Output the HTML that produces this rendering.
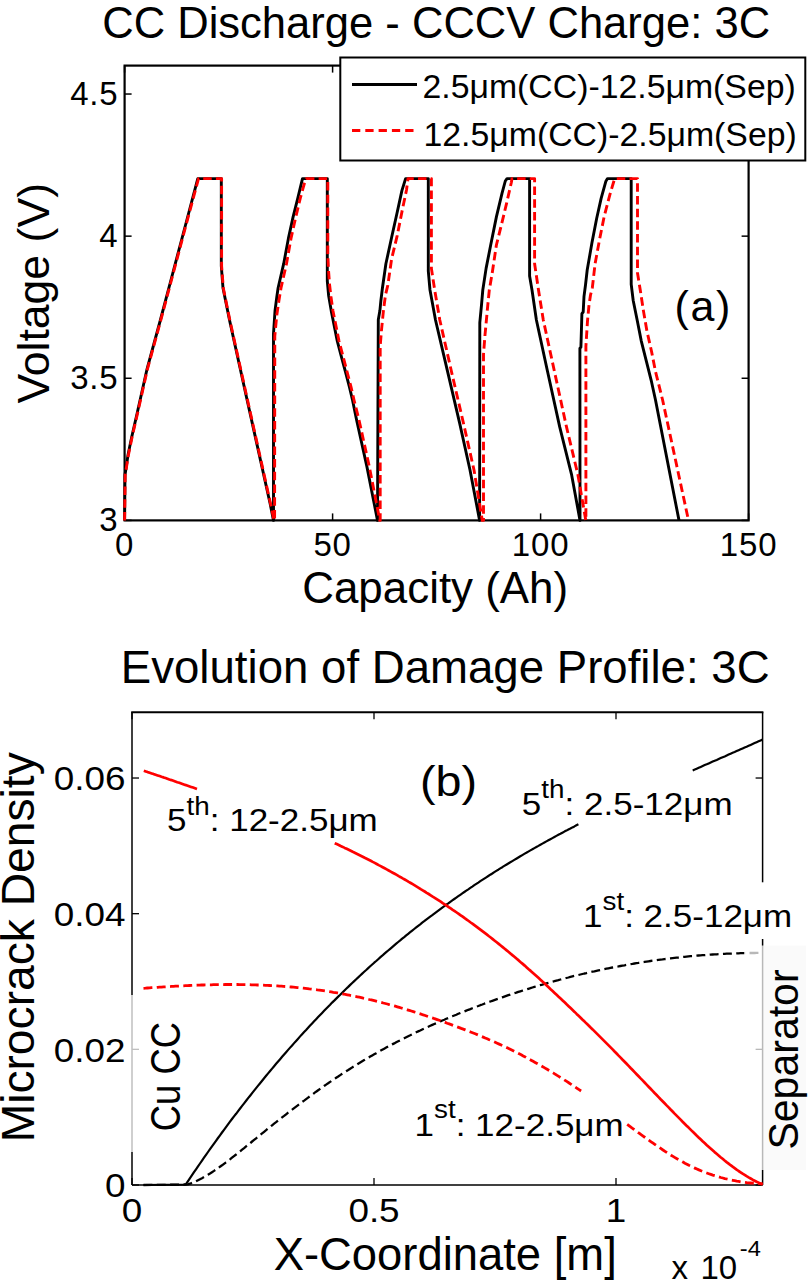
<!DOCTYPE html>
<html><head><meta charset="utf-8"><style>
html,body{margin:0;padding:0;background:#fff;width:812px;height:1280px;overflow:hidden}
svg{display:block}
</style></head><body>
<svg width="812" height="1280" viewBox="0 0 812 1280" font-family='"Liberation Sans", sans-serif' fill="#000">
<rect width="812" height="1280" fill="#fff"/>
<text transform="translate(102.20,38.10)" font-size="43.55">CC Discharge - CCCV Charge: 3C</text>
<line x1="124.60" y1="520.40" x2="124.60" y2="513.40" stroke="#000" stroke-width="1.5"/>
<line x1="124.60" y1="65.60" x2="124.60" y2="72.60" stroke="#000" stroke-width="1.5"/>
<text transform="translate(124.60,555.50)" font-size="33" text-anchor="middle" letter-spacing="0.8">0</text>
<line x1="332.60" y1="520.40" x2="332.60" y2="513.40" stroke="#000" stroke-width="1.5"/>
<line x1="332.60" y1="65.60" x2="332.60" y2="72.60" stroke="#000" stroke-width="1.5"/>
<text transform="translate(332.60,555.50)" font-size="33" text-anchor="middle" letter-spacing="0.8">50</text>
<line x1="540.60" y1="520.40" x2="540.60" y2="513.40" stroke="#000" stroke-width="1.5"/>
<line x1="540.60" y1="65.60" x2="540.60" y2="72.60" stroke="#000" stroke-width="1.5"/>
<text transform="translate(540.60,555.50)" font-size="33" text-anchor="middle" letter-spacing="0.8">100</text>
<line x1="748.60" y1="520.40" x2="748.60" y2="513.40" stroke="#000" stroke-width="1.5"/>
<line x1="748.60" y1="65.60" x2="748.60" y2="72.60" stroke="#000" stroke-width="1.5"/>
<text transform="translate(748.60,555.50)" font-size="33" text-anchor="middle" letter-spacing="0.8">150</text>
<line x1="124.60" y1="520.40" x2="131.60" y2="520.40" stroke="#000" stroke-width="1.5"/>
<line x1="748.60" y1="520.40" x2="741.60" y2="520.40" stroke="#000" stroke-width="1.5"/>
<text transform="translate(118.50,531.40)" font-size="33" text-anchor="end" letter-spacing="0.8">3</text>
<line x1="124.60" y1="378.27" x2="131.60" y2="378.27" stroke="#000" stroke-width="1.5"/>
<line x1="748.60" y1="378.27" x2="741.60" y2="378.27" stroke="#000" stroke-width="1.5"/>
<text transform="translate(118.50,389.27)" font-size="33" text-anchor="end" letter-spacing="0.8">3.5</text>
<line x1="124.60" y1="236.15" x2="131.60" y2="236.15" stroke="#000" stroke-width="1.5"/>
<line x1="748.60" y1="236.15" x2="741.60" y2="236.15" stroke="#000" stroke-width="1.5"/>
<text transform="translate(118.50,247.15)" font-size="33" text-anchor="end" letter-spacing="0.8">4</text>
<line x1="124.60" y1="94.03" x2="131.60" y2="94.03" stroke="#000" stroke-width="1.5"/>
<line x1="748.60" y1="94.03" x2="741.60" y2="94.03" stroke="#000" stroke-width="1.5"/>
<text transform="translate(118.50,105.03)" font-size="33" text-anchor="end" letter-spacing="0.8">4.5</text>
<rect x="124.6" y="65.6" width="624.0" height="454.79999999999995" fill="none" stroke="#000" stroke-width="2.2"/>
<polyline points="124.6,520.4 125.0,475.0 128.0,455.0 131.6,437.5 137.2,413.0 147.1,368.8 160.4,320.0 171.5,278.0 185.0,227.0 197.8,178.6 221.3,178.6 221.3,266.0 223.0,288.0 229.5,320.0 248.0,404.0 270.2,504.0 273.5,520.4 273.5,333.5 275.0,311.0 276.8,297.0 278.1,288.0 283.7,263.7 288.4,238.4 293.1,216.9 297.8,198.1 302.5,178.6 327.3,178.6 327.3,281.0 328.6,295.4 331.2,310.6 334.2,325.8 337.3,341.1 341.3,356.3 345.4,371.5 349.4,386.8 352.5,400.0 356.6,420.0 366.9,466.6 377.5,520.4 378.3,319.7 379.9,310.6 380.9,300.5 382.4,288.3 385.9,263.7 391.6,237.5 397.2,212.2 401.9,190.6 405.6,178.6 428.3,178.6 428.3,271.2 430.0,290.0 435.5,320.0 447.6,371.7 459.7,423.4 470.0,470.0 479.6,520.4 479.8,322.6 481.5,305.0 482.8,290.0 486.1,268.4 490.7,245.0 496.4,216.9 502.0,193.4 505.3,181.0 507.0,178.6 529.6,178.6 529.6,275.9 532.0,290.0 536.4,320.0 547.6,371.7 559.7,426.9 571.7,475.2 580.0,520.4 579.9,348.2 580.9,347.2 581.9,313.7 583.2,312.0 584.0,296.4 585.5,285.0 587.2,270.0 591.9,243.1 596.6,218.7 601.2,198.1 605.9,181.2 607.5,178.6 631.2,178.6 631.2,284.3 633.2,300.5 637.3,320.8 641.3,341.1 646.4,361.4 651.5,381.7 655.5,400.0 679.0,520.4" fill="none" stroke="#000" stroke-width="2.9" stroke-linejoin="round" stroke-linecap="butt"/>
<polyline points="124.6,520.4 125.2,475.0 128.4,455.0 132.0,437.5 137.6,413.0 147.5,368.8 160.8,320.0 172.0,278.0 185.5,227.0 198.5,178.6 221.6,178.6 221.6,266.0 223.3,288.0 229.8,320.0 248.4,404.0 270.6,504.0 274.0,520.4 274.6,520.4 274.8,336.0 276.8,315.0 279.0,300.0 281.0,288.0 286.5,263.7 291.0,238.4 295.8,216.9 300.3,198.1 304.5,183.0 306.2,178.6 327.8,178.6 327.8,254.0 328.5,270.0 329.6,285.0 331.0,297.0 333.0,311.0 336.0,326.0 339.0,341.0 343.0,356.3 347.0,371.5 351.0,386.8 354.0,400.0 359.0,420.0 369.3,466.6 379.8,520.4 380.2,520.4 380.2,346.0 381.5,330.0 383.5,310.0 385.5,295.0 387.8,285.3 391.6,259.0 397.2,235.6 402.8,207.5 406.5,190.0 408.0,178.6 431.4,178.6 431.4,268.4 434.7,290.0 439.8,320.0 451.5,371.7 463.5,423.4 474.0,470.0 482.3,520.4 483.5,520.4 483.5,354.5 485.0,335.0 486.4,320.0 487.8,305.0 489.3,290.0 492.2,273.1 496.4,245.0 501.1,226.2 506.7,202.8 511.4,182.2 512.0,178.6 534.6,178.6 534.6,263.7 538.5,290.0 543.3,320.0 554.5,371.7 566.5,426.9 578.0,475.2 585.8,520.4 585.9,520.4 585.9,346.4 587.5,321.0 589.0,305.0 590.5,295.0 592.3,288.0 595.1,263.7 599.4,240.3 604.1,216.9 609.7,195.3 614.4,179.4 615.0,178.6 637.5,178.6 637.5,273.1 640.3,290.3 643.4,310.6 646.9,330.9 651.5,351.2 655.5,371.5 662.6,400.0 688.5,520.4" fill="none" stroke="#f00" stroke-width="2.9" stroke-linejoin="round" stroke-linecap="butt" stroke-dasharray="8.5 4.2"/>
<text transform="translate(435.20,602.50)" font-size="43.9" text-anchor="middle">Capacity (Ah)</text>
<text transform="translate(48.50,293.30) rotate(-90)" font-size="44.6" text-anchor="middle">Voltage (V)</text>
<text transform="translate(674.50,321.00)" font-size="43" letter-spacing="1.6">(a)</text>
<rect x="340.3" y="57.5" width="465" height="103" fill="#fff" stroke="#000" stroke-width="2"/>
<line x1="352.00" y1="84.60" x2="417.00" y2="84.60" stroke="#000" stroke-width="3"/>
<line x1="352" y1="130.4" x2="417" y2="130.4" stroke="#f00" stroke-width="3" stroke-dasharray="8.3 5"/>
<text transform="translate(422.50,97.50)" font-size="33.8">2.5μm(CC)-12.5μm(Sep)</text>
<text transform="translate(423.50,146.00)" font-size="33.8">12.5μm(CC)-2.5μm(Sep)</text>
<text transform="translate(120.80,683.00)" font-size="45.6">Evolution of Damage Profile: 3C</text>
<line x1="132.00" y1="1185.00" x2="132.00" y2="1178.00" stroke="#000" stroke-width="1.3"/>
<line x1="132.00" y1="712.20" x2="132.00" y2="719.20" stroke="#000" stroke-width="1.3"/>
<text transform="translate(132.00,1221.50) scale(1.1000,1.0000)" font-size="33.5" text-anchor="middle">0</text>
<line x1="374.00" y1="1185.00" x2="374.00" y2="1178.00" stroke="#000" stroke-width="1.3"/>
<line x1="374.00" y1="712.20" x2="374.00" y2="719.20" stroke="#000" stroke-width="1.3"/>
<text transform="translate(374.00,1221.50) scale(1.1000,1.0000)" font-size="33.5" text-anchor="middle">0.5</text>
<line x1="616.00" y1="1185.00" x2="616.00" y2="1178.00" stroke="#000" stroke-width="1.3"/>
<line x1="616.00" y1="712.20" x2="616.00" y2="719.20" stroke="#000" stroke-width="1.3"/>
<text transform="translate(616.00,1221.50) scale(1.1000,1.0000)" font-size="33.5" text-anchor="middle">1</text>
<line x1="132.00" y1="1185.00" x2="139.00" y2="1185.00" stroke="#000" stroke-width="1.3"/>
<line x1="762.60" y1="1185.00" x2="755.60" y2="1185.00" stroke="#000" stroke-width="1.3"/>
<text transform="translate(125.40,1197.40) scale(1.1000,1.0000)" font-size="33.5" text-anchor="end">0</text>
<line x1="132.00" y1="1049.34" x2="139.00" y2="1049.34" stroke="#000" stroke-width="1.3"/>
<line x1="762.60" y1="1049.34" x2="755.60" y2="1049.34" stroke="#000" stroke-width="1.3"/>
<text transform="translate(125.40,1061.74) scale(1.1000,1.0000)" font-size="33.5" text-anchor="end">0.02</text>
<line x1="132.00" y1="913.68" x2="139.00" y2="913.68" stroke="#000" stroke-width="1.3"/>
<line x1="762.60" y1="913.68" x2="755.60" y2="913.68" stroke="#000" stroke-width="1.3"/>
<text transform="translate(125.40,926.08) scale(1.1000,1.0000)" font-size="33.5" text-anchor="end">0.04</text>
<line x1="132.00" y1="778.02" x2="139.00" y2="778.02" stroke="#000" stroke-width="1.3"/>
<line x1="762.60" y1="778.02" x2="755.60" y2="778.02" stroke="#000" stroke-width="1.3"/>
<text transform="translate(125.40,790.42) scale(1.1000,1.0000)" font-size="33.5" text-anchor="end">0.06</text>
<line x1="131.20" y1="712.20" x2="763.40" y2="712.20" stroke="#000" stroke-width="2"/>
<line x1="132.00" y1="1185.00" x2="762.60" y2="1185.00" stroke="#000" stroke-width="1.5"/>
<line x1="132.00" y1="712.20" x2="132.00" y2="1185.00" stroke="#000" stroke-width="1.5"/>
<line x1="762.60" y1="712.20" x2="762.60" y2="1185.00" stroke="#000" stroke-width="1.5"/>
<polyline points="143.5,1185.0 184.0,1184.6 186.0,1184.1 188.0,1181.1 190.0,1178.1 192.0,1175.2 194.0,1172.2 196.0,1169.3 198.0,1166.4 200.0,1163.5 202.0,1160.6 204.0,1157.7 206.0,1154.9 208.0,1152.0 210.0,1149.2 212.0,1146.4 214.0,1143.6 216.0,1140.8 218.0,1138.0 220.0,1135.3 222.0,1132.5 224.0,1129.8 226.0,1127.1 228.0,1124.4 230.0,1121.7 232.0,1119.0 234.0,1116.4 236.1,1113.8 238.1,1111.1 240.1,1108.5 242.1,1105.9 244.1,1103.3 246.1,1100.8 248.1,1098.2 250.1,1095.7 252.1,1093.1 254.1,1090.6 256.1,1088.1 258.1,1085.6 260.1,1083.2 262.1,1080.7 264.1,1078.3 266.1,1075.8 268.1,1073.4 270.1,1071.0 272.1,1068.6 274.1,1066.2 276.1,1063.8 278.1,1061.5 280.1,1059.2 282.1,1056.8 284.1,1054.5 286.1,1052.2 288.1,1049.9 290.1,1047.6 292.1,1045.4 294.1,1043.1 296.1,1040.9 298.1,1038.7 300.1,1036.4 302.1,1034.2 304.1,1032.0 306.1,1029.9 308.1,1027.7 310.1,1025.5 312.1,1023.4 314.1,1021.3 316.1,1019.2 318.1,1017.1 320.1,1015.0 322.1,1012.9 324.1,1010.8 326.1,1008.7 328.1,1006.7 330.1,1004.7 332.1,1002.6 334.2,1000.6 336.2,998.6 338.2,996.6 340.2,994.7 342.2,992.7 344.2,990.7 346.2,988.8 348.2,986.9 350.2,984.9 352.2,983.0 354.2,981.1 356.2,979.2 358.2,977.4 360.2,975.5 362.2,973.6 364.2,971.8 366.2,970.0 368.2,968.1 370.2,966.3 372.2,964.5 374.2,962.7 376.2,961.0 378.2,959.2 380.2,957.4 382.2,955.7 384.2,953.9 386.2,952.2 388.2,950.5 390.2,948.8 392.2,947.1 394.2,945.4 396.2,943.7 398.2,942.0 400.2,940.4 402.2,938.7 404.2,937.1 406.2,935.4 408.2,933.8 410.2,932.2 412.2,930.6 414.2,929.0 416.2,927.4 418.2,925.8 420.2,924.3 422.2,922.7 424.2,921.2 426.2,919.6 428.2,918.1 430.2,916.6 432.3,915.1 434.3,913.6 436.3,912.1 438.3,910.6 440.3,909.1 442.3,907.6 444.3,906.2 446.3,904.7 448.3,903.3 450.3,901.8 452.3,900.4 454.3,899.0 456.3,897.6 458.3,896.2 460.3,894.8 462.3,893.4 464.3,892.0 466.3,890.6 468.3,889.3 470.3,887.9 472.3,886.6 474.3,885.2 476.3,883.9 478.3,882.6 480.3,881.2 482.3,879.9 484.3,878.6 486.3,877.3 488.3,876.0 490.3,874.7 492.3,873.5 494.3,872.2 496.3,870.9 498.3,869.7 500.3,868.4 502.3,867.2 504.3,865.9 506.3,864.7 508.3,863.5 510.3,862.3 512.3,861.1 514.3,859.9 516.3,858.7 518.3,857.5 520.3,856.3 522.3,855.1 524.3,853.9 526.3,852.8 528.3,851.6 530.4,850.4 532.4,849.3 534.4,848.1 536.4,847.0 538.4,845.9 540.4,844.7 542.4,843.6 544.4,842.5 546.4,841.4 548.4,840.3 550.4,839.2 552.4,838.1 554.4,837.0 556.4,835.9 558.4,834.8 560.4,833.8 562.4,832.7 564.4,831.6 566.4,830.6 568.4,829.5 570.4,828.5 572.4,827.4 574.4,826.4 576.4,825.3 578.4,824.3" fill="none" stroke="#000" stroke-width="2.2" stroke-linejoin="round" stroke-linecap="butt"/>
<polyline points="692.7,770.4 694.7,769.6 696.7,768.7 698.7,767.8 700.7,766.9 702.7,766.0 704.7,765.1 706.7,764.3 708.7,763.4 710.7,762.5 712.7,761.6 714.7,760.7 716.7,759.9 718.7,759.0 720.7,758.1 722.7,757.2 724.7,756.4 726.7,755.5 728.6,754.6 730.6,753.7 732.6,752.8 734.6,752.0 736.6,751.1 738.6,750.2 740.6,749.3 742.6,748.4 744.6,747.5 746.6,746.7 748.6,745.8 750.6,744.9 752.6,744.0 754.6,743.1 756.6,742.2 758.6,741.3 760.6,740.4 762.6,739.5" fill="none" stroke="#000" stroke-width="2.2" stroke-linejoin="round" stroke-linecap="butt"/>
<polyline points="143.5,1185.0 186.0,1184.6 188.0,1184.4 190.0,1183.7 192.0,1182.9 194.0,1182.1 196.0,1181.2 198.0,1180.2 200.0,1179.2 202.0,1178.2 204.0,1177.1 206.0,1175.9 208.0,1174.7 210.0,1173.5 212.0,1172.2 214.0,1170.9 216.0,1169.5 218.0,1168.2 220.0,1166.7 222.0,1165.3 224.0,1163.8 226.0,1162.3 228.0,1160.8 230.0,1159.3 232.0,1157.7 234.0,1156.1 236.1,1154.5 238.1,1152.9 240.1,1151.3 242.1,1149.7 244.1,1148.1 246.1,1146.4 248.1,1144.8 250.1,1143.2 252.1,1141.5 254.1,1139.9 256.1,1138.3 258.1,1136.6 260.1,1135.0 262.1,1133.4 264.1,1131.8 266.1,1130.2 268.1,1128.5 270.1,1126.9 272.1,1125.3 274.1,1123.7 276.1,1122.2 278.1,1120.6 280.1,1119.0 282.1,1117.4 284.1,1115.9 286.1,1114.3 288.1,1112.7 290.1,1111.2 292.1,1109.7 294.1,1108.1 296.1,1106.6 298.1,1105.1 300.1,1103.6 302.1,1102.0 304.1,1100.6 306.1,1099.1 308.1,1097.6 310.1,1096.1 312.1,1094.6 314.1,1093.2 316.1,1091.7 318.1,1090.3 320.1,1088.9 322.1,1087.5 324.1,1086.0 326.1,1084.6 328.1,1083.3 330.1,1081.9 332.2,1080.5 334.2,1079.2 336.2,1077.8 338.2,1076.5 340.2,1075.1 342.2,1073.8 344.2,1072.5 346.2,1071.2 348.2,1070.0 350.2,1068.7 352.2,1067.4 354.2,1066.2 356.2,1065.0 358.2,1063.7 360.2,1062.5 362.2,1061.3 364.2,1060.1 366.2,1058.9 368.2,1057.8 370.2,1056.6 372.2,1055.4 374.2,1054.3 376.2,1053.2 378.2,1052.0 380.2,1050.9 382.2,1049.8 384.2,1048.7 386.2,1047.6 388.2,1046.5 390.2,1045.5 392.2,1044.4 394.2,1043.4 396.2,1042.3 398.2,1041.3 400.2,1040.3 402.2,1039.2 404.2,1038.2 406.2,1037.2 408.2,1036.2 410.2,1035.3 412.2,1034.3 414.2,1033.3 416.2,1032.3 418.2,1031.4 420.2,1030.5 422.2,1029.5 424.2,1028.6 426.2,1027.7 428.3,1026.7 430.3,1025.8 432.3,1024.9 434.3,1024.0 436.3,1023.2 438.3,1022.3 440.3,1021.4 442.3,1020.5 444.3,1019.7 446.3,1018.8 448.3,1018.0 450.3,1017.1 452.3,1016.3 454.3,1015.5 456.3,1014.7 458.3,1013.8 460.3,1013.0 462.3,1012.2 464.3,1011.4 466.3,1010.6 468.3,1009.8 470.3,1009.1 472.3,1008.3 474.3,1007.5 476.3,1006.7 478.3,1006.0 480.3,1005.2 482.3,1004.5 484.3,1003.7 486.3,1003.0 488.3,1002.3 490.3,1001.5 492.3,1000.8 494.3,1000.1 496.3,999.4 498.3,998.7 500.3,998.0 502.3,997.3 504.3,996.6 506.3,995.9 508.3,995.2 510.3,994.6 512.3,993.9 514.3,993.2 516.3,992.6 518.3,991.9 520.3,991.3 522.3,990.7 524.4,990.0 526.4,989.4 528.4,988.8 530.4,988.2 532.4,987.5 534.4,986.9 536.4,986.3 538.4,985.7 540.4,985.1 542.4,984.6 544.4,984.0 546.4,983.4 548.4,982.8 550.4,982.3 552.4,981.7 554.4,981.2 556.4,980.6 558.4,980.1 560.4,979.5 562.4,979.0 564.4,978.5 566.4,978.0 568.4,977.5 570.4,976.9 572.4,976.4 574.4,975.9 576.4,975.5 578.4,975.0 580.4,974.5 582.4,974.0 584.4,973.5 586.4,973.1 588.4,972.6 590.4,972.2 592.4,971.7 594.4,971.3 596.4,970.8 598.4,970.4 600.4,970.0 602.4,969.5 604.4,969.1 606.4,968.7 608.4,968.3 610.4,967.9 612.4,967.5 614.4,967.1 616.4,966.7 618.4,966.4 620.5,966.0 622.5,965.6 624.5,965.3 626.5,964.9 628.5,964.5 630.5,964.2 632.5,963.9 634.5,963.5 636.5,963.2 638.5,962.9 640.5,962.5 642.5,962.2 644.5,961.9 646.5,961.6 648.5,961.3 650.5,961.0 652.5,960.7 654.5,960.4 656.5,960.2 658.5,959.9 660.5,959.6 662.5,959.4 664.5,959.1 666.5,958.9 668.5,958.6 670.5,958.4 672.5,958.1 674.5,957.9 676.5,957.7 678.5,957.5 680.5,957.2 682.5,957.0 684.5,956.8 686.5,956.6 688.5,956.4 690.5,956.2 692.5,956.1 694.5,955.9 696.5,955.7 698.5,955.5 700.5,955.4 702.5,955.2 704.5,955.1 706.5,954.9 708.5,954.8 710.5,954.6 712.5,954.5 714.5,954.4 716.6,954.3 718.6,954.2 720.6,954.0 722.6,953.9 724.6,953.8 726.6,953.7 728.6,953.7 730.6,953.6 732.6,953.5 734.6,953.4 736.6,953.3 738.6,953.3 740.6,953.2 742.6,953.2 744.6,953.1 746.6,953.1 748.6,953.0 750.6,953.0 752.6,953.0 754.6,953.0 756.6,952.9 758.6,952.9 760.6,952.9 762.6,952.9" fill="none" stroke="#000" stroke-width="2.3" stroke-linejoin="round" stroke-linecap="butt" stroke-dasharray="8.9 4.4"/>
<polyline points="143.8,770.7 145.8,771.4 147.7,772.1 149.7,772.7 151.7,773.4 153.7,774.1 155.6,774.7 157.6,775.4 159.6,776.1 161.5,776.8 163.5,777.4 165.5,778.1 167.4,778.8 169.4,779.5 171.4,780.1 173.4,780.8 175.3,781.5 177.3,782.2 179.3,782.8 181.2,783.5 183.2,784.2 185.2,784.9 187.1,785.5 189.1,786.2 191.1,786.9 193.1,787.6 195.0,788.3 197.0,789.0" fill="none" stroke="#f00" stroke-width="2.7" stroke-linejoin="round" stroke-linecap="butt"/>
<polyline points="334.7,843.2 336.7,844.1 338.7,845.0 340.7,846.0 342.7,846.9 344.7,847.9 346.7,848.8 348.7,849.8 350.7,850.8 352.7,851.8 354.7,852.7 356.7,853.7 358.7,854.7 360.7,855.7 362.7,856.7 364.7,857.8 366.7,858.8 368.7,859.8 370.7,860.8 372.7,861.9 374.7,862.9 376.7,864.0 378.7,865.1 380.7,866.1 382.7,867.2 384.7,868.3 386.7,869.4 388.7,870.5 390.7,871.6 392.7,872.7 394.7,873.8 396.7,874.9 398.7,876.1 400.7,877.2 402.7,878.4 404.7,879.5 406.7,880.7 408.7,881.9 410.7,883.0 412.7,884.2 414.7,885.4 416.7,886.6 418.7,887.8 420.7,889.1 422.7,890.3 424.7,891.5 426.7,892.8 428.7,894.0 430.7,895.3 432.7,896.6 434.7,897.8 436.7,899.1 438.7,900.4 440.7,901.7 442.7,903.1 444.7,904.4 446.7,905.7 448.7,907.1 450.7,908.4 452.7,909.8 454.7,911.1 456.7,912.5 458.7,913.9 460.7,915.3 462.7,916.7 464.7,918.2 466.7,919.6 468.7,921.0 470.7,922.5 472.7,923.9 474.7,925.4 476.7,926.9 478.7,928.4 480.7,929.9 482.7,931.4 484.7,932.9 486.7,934.4 488.7,936.0 490.7,937.5 492.7,939.1 494.7,940.7 496.7,942.3 498.7,943.9 500.7,945.5 502.7,947.1 504.7,948.7 506.7,950.4 508.7,952.0 510.7,953.7 512.7,955.4 514.7,957.0 516.7,958.7 518.7,960.4 520.7,962.2 522.7,963.9 524.7,965.6 526.7,967.4 528.7,969.2 530.7,970.9 532.7,972.7 534.7,974.5 536.7,976.3 538.7,978.1 540.7,979.9 542.7,981.8 544.7,983.6 546.7,985.5 548.6,987.3 550.6,989.2 552.6,991.0 554.6,992.9 556.6,994.8 558.6,996.7 560.6,998.5 562.6,1000.4 564.6,1002.3 566.6,1004.3 568.6,1006.2 570.6,1008.1 572.6,1010.0 574.6,1011.9 576.6,1013.9 578.6,1015.8 580.6,1017.7 582.6,1019.7 584.6,1021.6 586.6,1023.6 588.6,1025.5 590.6,1027.5 592.6,1029.4 594.6,1031.4 596.6,1033.4 598.6,1035.4 600.6,1037.4 602.6,1039.4 604.6,1041.4 606.6,1043.4 608.6,1045.4 610.6,1047.4 612.6,1049.4 614.6,1051.5 616.6,1053.5 618.6,1055.6 620.6,1057.6 622.6,1059.7 624.6,1061.7 626.6,1063.8 628.6,1065.9 630.6,1068.0 632.6,1070.0 634.6,1072.1 636.6,1074.2 638.6,1076.3 640.6,1078.4 642.6,1080.4 644.6,1082.5 646.6,1084.6 648.6,1086.7 650.6,1088.8 652.6,1090.9 654.6,1093.0 656.6,1095.0 658.6,1097.1 660.6,1099.2 662.6,1101.2 664.6,1103.3 666.6,1105.4 668.6,1107.4 670.6,1109.5 672.6,1111.5 674.6,1113.6 676.6,1115.6 678.6,1117.6 680.6,1119.6 682.6,1121.7 684.6,1123.7 686.6,1125.7 688.6,1127.6 690.6,1129.6 692.6,1131.6 694.6,1133.5 696.6,1135.5 698.6,1137.4 700.6,1139.3 702.6,1141.2 704.6,1143.0 706.6,1144.9 708.6,1146.7 710.6,1148.5 712.6,1150.3 714.6,1152.1 716.6,1153.8 718.6,1155.5 720.6,1157.2 722.6,1158.8 724.6,1160.5 726.6,1162.1 728.6,1163.6 730.6,1165.2 732.6,1166.7 734.6,1168.1 736.6,1169.6 738.6,1171.0 740.6,1172.3 742.6,1173.7 744.6,1174.9 746.6,1176.2 748.6,1177.4 750.6,1178.5 752.6,1179.7 754.6,1180.7 756.6,1181.8 758.6,1182.7 760.6,1183.7 762.6,1184.6" fill="none" stroke="#f00" stroke-width="2.7" stroke-linejoin="round" stroke-linecap="butt"/>
<polyline points="143.5,988.3 145.5,988.2 147.5,988.0 149.5,987.9 151.5,987.7 153.5,987.6 155.5,987.5 157.5,987.3 159.5,987.2 161.5,987.1 163.5,986.9 165.5,986.8 167.5,986.7 169.5,986.6 171.5,986.4 173.5,986.3 175.5,986.2 177.5,986.1 179.5,986.0 181.5,985.9 183.5,985.8 185.5,985.7 187.5,985.6 189.5,985.5 191.5,985.4 193.5,985.3 195.5,985.3 197.5,985.2 199.4,985.1 201.4,985.0 203.4,985.0 205.4,984.9 207.4,984.9 209.4,984.8 211.4,984.8 213.4,984.7 215.4,984.7 217.4,984.6 219.4,984.6 221.4,984.6 223.4,984.6 225.4,984.5 227.4,984.5 229.4,984.5 231.4,984.5 233.4,984.5 235.4,984.5 237.4,984.5 239.4,984.6 241.4,984.6 243.4,984.6 245.4,984.6 247.4,984.7 249.4,984.7 251.4,984.8 253.4,984.8 255.4,984.9 257.4,985.0 259.4,985.0 261.4,985.1 263.4,985.2 265.4,985.3 267.4,985.4 269.4,985.5 271.4,985.6 273.4,985.7 275.4,985.8 277.4,985.9 279.4,986.1 281.4,986.2 283.4,986.4 285.4,986.5 287.4,986.7 289.4,986.8 291.4,987.0 293.4,987.2 295.4,987.4 297.4,987.6 299.4,987.8 301.4,988.0 303.4,988.2 305.4,988.4 307.4,988.6 309.3,988.9 311.3,989.1 313.3,989.4 315.3,989.6 317.3,989.9 319.3,990.1 321.3,990.4 323.3,990.7 325.3,991.0 327.3,991.3 329.3,991.6 331.3,991.9 333.3,992.3 335.3,992.6 337.3,992.9 339.3,993.3 341.3,993.7 343.3,994.0 345.3,994.4 347.3,994.8 349.3,995.2 351.3,995.6 353.3,996.0 355.3,996.4 357.3,996.8 359.3,997.2 361.3,997.6 363.3,998.1 365.3,998.5 367.3,999.0 369.3,999.5 371.3,999.9 373.3,1000.4 375.3,1000.9 377.3,1001.4 379.3,1001.9 381.3,1002.4 383.3,1003.0 385.3,1003.5 387.3,1004.0 389.3,1004.6 391.3,1005.1 393.3,1005.7 395.3,1006.2 397.3,1006.8 399.3,1007.4 401.3,1008.0 403.3,1008.6 405.3,1009.2 407.3,1009.8 409.3,1010.4 411.3,1011.0 413.3,1011.6 415.3,1012.3 417.2,1012.9 419.2,1013.6 421.2,1014.2 423.2,1014.9 425.2,1015.5 427.2,1016.2 429.2,1016.9 431.2,1017.6 433.2,1018.2 435.2,1018.9 437.2,1019.6 439.2,1020.3 441.2,1021.0 443.2,1021.7 445.2,1022.4 447.2,1023.2 449.2,1023.9 451.2,1024.6 453.2,1025.4 455.2,1026.1 457.2,1026.9 459.2,1027.6 461.2,1028.4 463.2,1029.1 465.2,1029.9 467.2,1030.7 469.2,1031.5 471.2,1032.2 473.2,1033.0 475.2,1033.8 477.2,1034.6 479.2,1035.5 481.2,1036.3 483.2,1037.1 485.2,1038.0 487.2,1038.8 489.2,1039.7 491.2,1040.5 493.2,1041.4 495.2,1042.3 497.2,1043.2 499.2,1044.1 501.2,1045.0 503.2,1045.9 505.2,1046.9 507.2,1047.8 509.2,1048.8 511.2,1049.8 513.2,1050.8 515.2,1051.8 517.2,1052.8 519.2,1053.8 521.2,1054.8 523.2,1055.9 525.2,1056.9 527.1,1058.0 529.1,1059.1 531.1,1060.2 533.1,1061.3 535.1,1062.4 537.1,1063.5 539.1,1064.6 541.1,1065.8 543.1,1066.9 545.1,1068.1 547.1,1069.3 549.1,1070.5 551.1,1071.7 553.1,1072.9 555.1,1074.1 557.1,1075.4 559.1,1076.6 561.1,1077.9 563.1,1079.1 565.1,1080.4 567.1,1081.7 569.1,1083.0 571.1,1084.3 573.1,1085.6 575.1,1087.0 577.1,1088.3 579.1,1089.7 581.1,1091.0" fill="none" stroke="#f00" stroke-width="2.8" stroke-linejoin="round" stroke-linecap="butt" stroke-dasharray="8.9 4.4"/>
<polyline points="627.2,1124.4 629.2,1125.9 631.2,1127.4 633.2,1128.8 635.2,1130.3 637.2,1131.8 639.1,1133.2 641.1,1134.7 643.1,1136.1 645.1,1137.5 647.1,1139.0 649.1,1140.4 651.1,1141.8 653.1,1143.2 655.1,1144.6 657.1,1146.0 659.1,1147.3 661.1,1148.7 663.0,1150.0 665.0,1151.3 667.0,1152.6 669.0,1153.9 671.0,1155.2 673.0,1156.4 675.0,1157.6 677.0,1158.8 679.0,1159.9 681.0,1161.0 683.0,1162.1 684.9,1163.2 686.9,1164.2 688.9,1165.3 690.9,1166.2 692.9,1167.2 694.9,1168.1 696.9,1169.0 698.9,1169.9 700.9,1170.7 702.9,1171.5 704.9,1172.3 706.8,1173.0 708.8,1173.7 710.8,1174.4 712.8,1175.1 714.8,1175.7 716.8,1176.4 718.8,1176.9 720.8,1177.5 722.8,1178.0 724.8,1178.6 726.8,1179.0 728.8,1179.5 730.7,1179.9 732.7,1180.3 734.7,1180.7 736.7,1181.1 738.7,1181.4 740.7,1181.8 742.7,1182.0 744.7,1182.3 746.7,1182.6 748.7,1182.8 750.7,1183.0 752.6,1183.2 754.6,1183.3 756.6,1183.5 758.6,1183.6 760.6,1183.7 762.6,1183.7" fill="none" stroke="#f00" stroke-width="2.8" stroke-linejoin="round" stroke-linecap="butt" stroke-dasharray="8.9 4.4"/>
<rect x="131" y="995" width="58" height="157" fill="#fff" fill-opacity="0.75"/>
<rect x="744" y="945.5" width="62" height="224.5" fill="#fff" fill-opacity="0.72"/>
<rect x="763.5" y="945.5" width="42.5" height="224.5" fill="#000" fill-opacity="0.02"/>
<rect x="700" y="882.3" width="80" height="56.7" fill="#fff"/>
<text transform="translate(167.00,830.50) scale(1.1150,1.0000)" font-size="31.4">5<tspan dy="-16" font-size="25">th</tspan><tspan dy="16">: 12-2.5μm</tspan></text>
<text transform="translate(521.80,814.70) scale(1.1150,1.0000)" font-size="31.4">5<tspan dy="-17" font-size="25">th</tspan><tspan dy="17">: 2.5-12μm</tspan></text>
<text transform="translate(583.00,926.90) scale(1.1150,1.0000)" font-size="31.4">1<tspan dy="-17" font-size="25">st</tspan><tspan dy="17">: 2.5-12μm</tspan></text>
<text transform="translate(414.50,1135.50) scale(1.1150,1.0000)" font-size="31.4">1<tspan dy="-17.4" font-size="25">st</tspan><tspan dy="17.4">: 12-2.5μm</tspan></text>
<text transform="translate(420.00,796.00) scale(1.1200,1.0000)" font-size="41.7">(b)</text>
<text transform="translate(179.70,1076.60) rotate(-90) scale(0.8400,1.0000)" font-size="43.3" text-anchor="middle">Cu CC</text>
<text transform="translate(797.50,1059.50) rotate(-90) scale(0.9540,1.0000)" font-size="43" text-anchor="middle">Separator</text>
<text transform="translate(445.20,1269.60)" font-size="45.4" text-anchor="middle">X-Coordinate [m]</text>
<text transform="translate(34.30,947.30) rotate(-90)" font-size="46.2" text-anchor="middle">Microcrack Density</text>
<text transform="translate(671.50,1279.30)" font-size="33">x</text>
<text transform="translate(700.50,1279.30)" font-size="33">10</text>
<text transform="translate(739.80,1256.30) scale(1.1000,1.0000)" font-size="21.5">-4</text>
</svg>
</body></html>
